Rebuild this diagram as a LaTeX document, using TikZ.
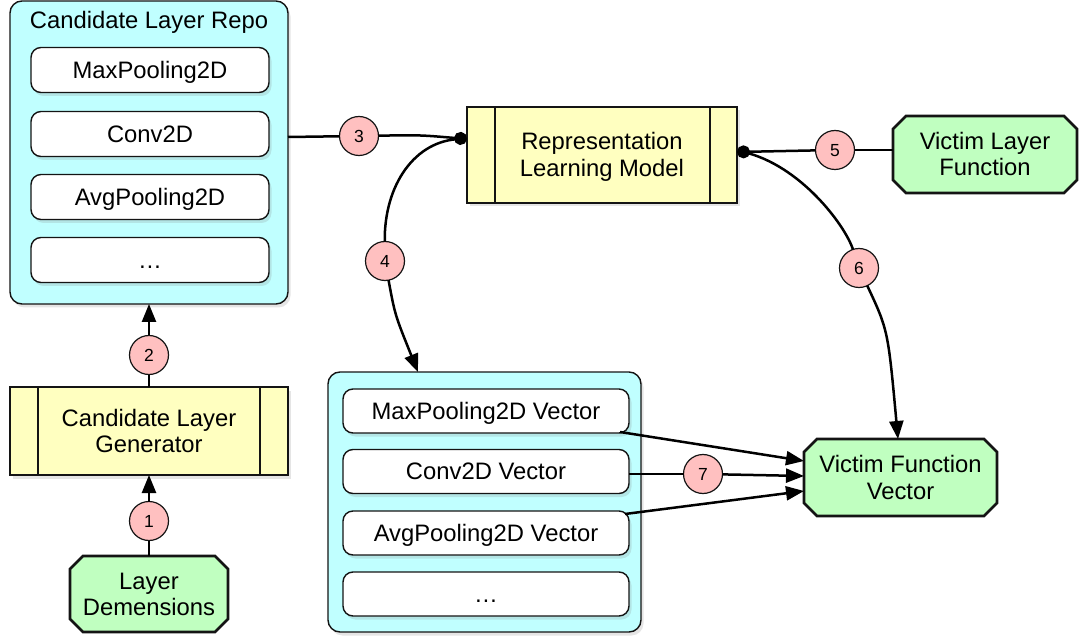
\documentclass[tikz,border=0pt]{standalone}
\usepackage{fontspec}
\setmainfont{Liberation Sans}
\usetikzlibrary{arrows.meta,shadows}

\definecolor{repocyan}{RGB}{192,255,255}
\definecolor{procyellow}{RGB}{255,255,192}
\definecolor{termgreen}{RGB}{192,255,192}
\definecolor{steppink}{RGB}{255,192,192}
\definecolor{edgegray}{RGB}{20,20,20}

\pgfdeclarelayer{background}
\pgfsetlayers{background,main}

% two centred lines whose caps sit symmetric about the node centre
\newcommand\dualline[2]{\rule{0pt}{22.5pt}#1\\#2\rule[-6pt]{0pt}{6pt}}

% octagon outline behind a terminal node, corners cut by 13pt
\newcommand\octoutline[1]{%
  \begin{pgfonlayer}{background}
    \draw[termline]
      ([xshift=13pt]#1.north west) -- ([xshift=-13pt]#1.north east)
      -- ([yshift=-13pt]#1.north east) -- ([yshift=13pt]#1.south east)
      -- ([xshift=-13pt]#1.south east) -- ([xshift=13pt]#1.south west)
      -- ([yshift=13pt]#1.south west) -- ([yshift=-13pt]#1.north west) -- cycle;
  \end{pgfonlayer}}

\begin{document}
\begin{tikzpicture}[x=1pt,y=-1pt,
  every node/.style={font=\fontsize{23.8}{26.5}\selectfont, inner sep=0pt, outer sep=0pt},
  softshadow/.style={drop shadow={opacity=0.2, shadow xshift=2.5pt, shadow yshift=-3.5pt}},
  container/.style={draw=edgegray, line width=1.4pt, fill=repocyan, rounded corners=12pt, softshadow},
  itembox/.style={draw=edgegray, line width=1.4pt, fill=white, rounded corners=10pt, softshadow,
    text height=22.5pt, text depth=6pt},
  procbox/.style={draw=edgegray, line width=2.6pt, fill=procyellow, softshadow, align=center},
  termbox/.style={rectangle, align=center},
  termline/.style={draw=edgegray, line width=2.6pt, fill=termgreen, line join=miter},
  stepnum/.style={circle, draw=edgegray, line width=1.2pt, fill=steppink, minimum size=39pt,
    font=\fontsize{17.5}{19}\selectfont, text height=12.5pt, text depth=0pt},
  flow/.style={line width=2.5pt, draw=black},
  arrowflow/.style={flow, -{Triangle[length=18pt,width=14pt]}},
  dotflow/.style={flow, -{Circle[length=13pt]}},
]
\begin{pgfonlayer}{background}
\fill[white] (0,0) rectangle (1080,639);
\end{pgfonlayer}
\useasboundingbox (0,0) rectangle (1080,639);

% candidate layer repository
\node[container, minimum width=278pt, minimum height=303pt] (repo) at (149,152.5) {};
\node[anchor=base] (repotitle) at (149,28.5) {Candidate Layer Repo};
\node[itembox, minimum width=238pt, minimum height=45pt] (rmax) at (150,70) {MaxPooling2D};
\node[itembox, minimum width=238pt, minimum height=45pt] (rconv) at (150,134) {Conv2D};
\node[itembox, minimum width=238pt, minimum height=45pt] (ravg) at (150,197) {AvgPooling2D};
\node[itembox, minimum width=238pt, minimum height=45pt] (rmore) at (150,260) {…};

% vector container
\node[container, minimum width=313pt, minimum height=260pt] (vec) at (484.5,502) {};
\node[itembox, minimum width=286pt, minimum height=44pt] (vmax) at (486,411) {MaxPooling2D Vector};
\node[itembox, minimum width=286pt, minimum height=44pt] (vconv) at (486,471.5) {Conv2D Vector};
\node[itembox, minimum width=286pt, minimum height=44pt] (vavg) at (486,533) {AvgPooling2D Vector};
\node[itembox, minimum width=286pt, minimum height=44pt] (vmore) at (486,594) {…};

% predefined processes
\node[procbox, minimum width=278pt, minimum height=88pt] (gen) at (149,431) {\dualline{Candidate Layer}{Generator}};
\draw[line width=2.6pt, edgegray] ([xshift=28pt]gen.north west) -- ([xshift=28pt]gen.south west);
\draw[line width=2.6pt, edgegray] ([xshift=-28pt]gen.north east) -- ([xshift=-28pt]gen.south east);

\node[procbox, minimum width=270pt, minimum height=96pt] (rep) at (602,155) {\dualline{Representation}{Learning Model}};
\draw[line width=2.6pt, edgegray] ([xshift=28pt]rep.north west) -- ([xshift=28pt]rep.south west);
\draw[line width=2.6pt, edgegray] ([xshift=-27pt]rep.north east) -- ([xshift=-27pt]rep.south east);

% terminals
\node[termbox, minimum width=158pt, minimum height=76pt] (dims) at (149,594) {\dualline{Layer}{Demensions}};
\octoutline{dims}
\node[termbox, minimum width=184pt, minimum height=77pt] (vlf) at (985,154.5) {\dualline{Victim Layer}{Function}};
\octoutline{vlf}
\node[termbox, minimum width=193pt, minimum height=77pt] (vfv) at (900.5,477.5) {\dualline{Victim Function}{Vector}};
\octoutline{vfv}

% step numbers
\node[stepnum] (n1) at (149,521) {1};
\node[stepnum] (n2) at (149,355) {2};
\node[stepnum] (n3) at (359,136) {3};
\node[stepnum] (n4) at (385,261) {4};
\node[stepnum] (n5) at (835,150) {5};
\node[stepnum] (n6) at (859,268) {6};
\node[stepnum] (n7) at (703,474) {7};

% connector end points
\coordinate (s3) at (288,137);
\coordinate (e3) at (467,139);
\coordinate (d1) at (460.5,139);
\coordinate (t4) at (418,372);
\coordinate (s5) at (893,150);
\coordinate (e5) at (737,152);
\coordinate (d2) at (743.5,152);
\coordinate (t6) at (898,439);
\coordinate (m1) at (620,432);
\coordinate (m2) at (629,474);
\coordinate (m3) at (625,514);
\coordinate (a1) at (804,461);
\coordinate (a2) at (804,476);
\coordinate (a3) at (804,491);

% connectors
\draw[flow] (dims) -- (n1);
\draw[arrowflow] (n1) -- (gen);
\draw[flow] (gen) -- (n2);
\draw[arrowflow] (n2) -- (repo);
\draw[flow] (s3) -- (n3);
\draw[dotflow] (n3) .. controls (420,135) .. (e3);
\draw[flow] (d1) .. controls (415,140) and (384,185) .. (n4);
\draw[arrowflow] (n4) .. controls (395,315) .. (t4);
\draw[flow] (s5) -- (n5);
\draw[dotflow] (n5) -- (e5);
\draw[flow] (d2) .. controls (800,165) and (845,225) .. (n6);
\draw[arrowflow] (n6) .. controls (888,330) .. (t6);
\draw[arrowflow] (m1) -- (a1);
\draw[flow] (m2) -- (n7);
\draw[arrowflow] (n7) -- (a2);
\draw[arrowflow] (m3) -- (a3);
\end{tikzpicture}
\end{document}
